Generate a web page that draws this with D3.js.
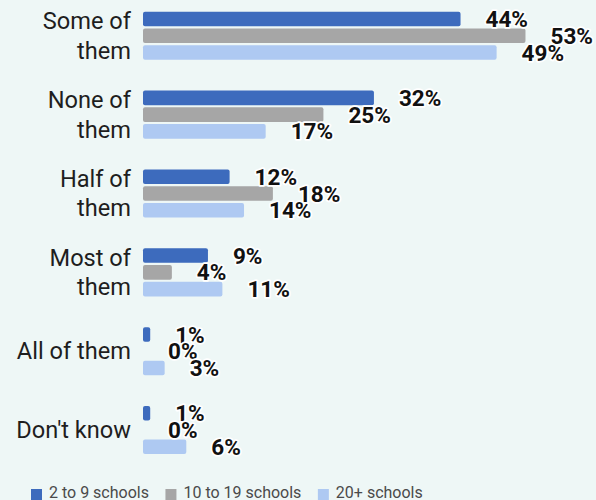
<!DOCTYPE html>
<html>
<head>
<meta charset="utf-8">
<script src="https://cdn.jsdelivr.net/npm/d3@7"></script>
<style>
  html, body { margin: 0; padding: 0; background: #eef7f6; }
  svg { display: block; font-family: Roboto, "Noto Sans", sans-serif; }
</style>
</head>
<body>
<svg id="chart" width="596" height="500"></svg>
<script>
// Answer categories (top to bottom) and their wrapped tick labels
const categories = ["Some of them", "None of them", "Half of them", "Most of them", "All of them", "Don't know"];
const tickLines = [["Some of", "them"], ["None of", "them"], ["Half of", "them"], ["Most of", "them"], ["All of them"], ["Don't know"]];

// Series: share of respondents (%) by number of schools
const seriesNames = ["2 to 9 schools", "10 to 19 schools", "20+ schools"];
const small = [44, 32, 12, 9, 1, 1];
const medium = [53, 25, 18, 4, 0, 0];
const large = [49, 17, 14, 11, 3, 6];
const seriesValues = [small, medium, large];
const colors = ["#3d6bbd", "#a6a6a6", "#aec9f2"];

const svg = d3.select("#chart");

const y = d3.scaleBand()
  .domain(categories)
  .range([-3.7, 469.5])
  .paddingInner(0.39)
  .paddingOuter(0.195);

const ySub = d3.scaleBand()
  .domain(seriesNames)
  .range([0, y.bandwidth()])
  .paddingInner(0.13);

const x = d3.scaleLinear().domain([0, 60]).range([143, 576]);

const rows = categories.map((c, i) => ({
  category: c,
  values: seriesNames.map((s, j) => ({ series: s, value: seriesValues[j][i], color: colors[j] }))
}));

// Category tick labels
const ticks = svg.append("g").attr("class", "ticks");
categories.forEach((c, i) => {
  const lines = tickLines[i];
  const cy = y(c) + y.bandwidth() / 2;
  const lh = 29.4;
  const t = ticks.append("text")
    .attr("text-anchor", "end")
    .attr("font-size", 23.6)
    .attr("fill", "#1e1e1e");
  lines.forEach((ln, k) => {
    t.append("tspan")
      .attr("x", 131)
      .attr("y", cy + (k - (lines.length - 1) / 2) * lh + 8.2)
      .text(ln);
  });
});

// Bars
const groups = svg.append("g").attr("class", "bars")
  .selectAll("g")
  .data(rows)
  .join("g")
  .attr("transform", d => `translate(0,${y(d.category)})`);

groups.selectAll("rect")
  .data(d => d.values.filter(v => v.value > 0))
  .join("rect")
  .attr("x", x(0))
  .attr("y", v => ySub(v.series))
  .attr("width", v => x(v.value) - x(0))
  .attr("height", ySub.bandwidth())
  .attr("rx", 2)
  .attr("fill", v => v.color);

// Value labels with a white halo
groups.selectAll("text")
  .data(d => d.values)
  .join("text")
  .attr("x", v => x(v.value) + 25)
  .attr("y", v => ySub(v.series) + ySub.bandwidth() / 2)
  .attr("dy", "0.36em")
  .attr("font-size", 22.5)
  .attr("font-weight", 700)
  .attr("fill", "#111")
  .attr("stroke", "#fff")
  .attr("stroke-width", 3.5)
  .attr("stroke-linejoin", "round")
  .attr("paint-order", "stroke")
  .text(v => v.value + "%");

// Legend
const legend = svg.append("g").attr("class", "legend");
let lx = 31;
seriesNames.forEach((s, j) => {
  legend.append("rect")
    .attr("x", lx).attr("y", 489)
    .attr("width", 11).attr("height", 11)
    .attr("fill", colors[j]);
  const t = legend.append("text")
    .attr("x", lx + 18).attr("y", 498)
    .attr("font-size", 16)
    .attr("fill", "#4a4a4a")
    .text(s);
  lx += 18 + t.node().getComputedTextLength() + 16.5;
});
</script>
</body>
</html>
